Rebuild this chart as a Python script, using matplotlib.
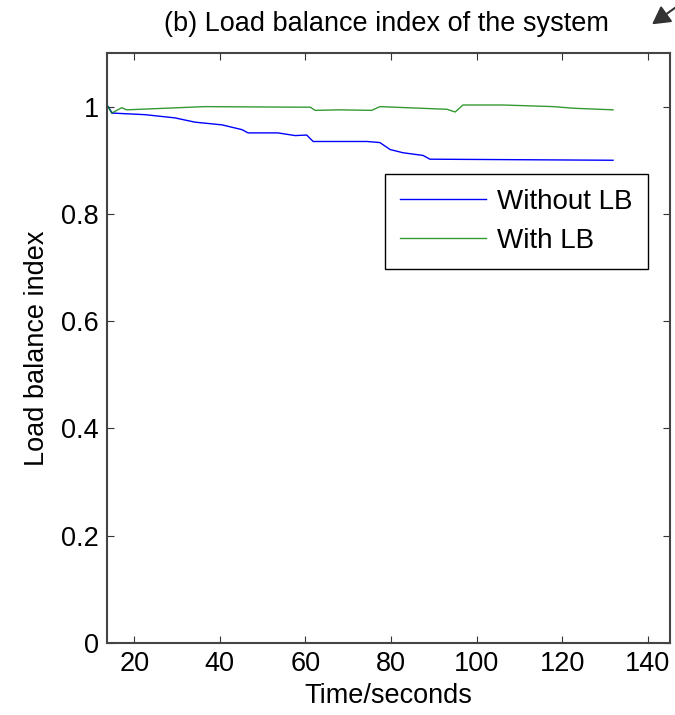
import numpy as np
import matplotlib
matplotlib.use("Agg")
import matplotlib.pyplot as plt

plt.rcParams['font.family'] = ['Liberation Sans', 'DejaVu Sans']

# time (s) and load balance index
t_without = [13.9, 14.8, 22.5, 29.5, 34.2, 40.5, 45.2, 46.6, 53.6, 57.6, 60.3, 61.8,
             74.4, 77.4, 79.8, 82.8, 87.5, 89.1, 131.9]
lbi_without = [1.0, 0.988, 0.985, 0.979, 0.971, 0.966, 0.957, 0.951, 0.951, 0.946, 0.947, 0.935,
               0.935, 0.933, 0.920, 0.914, 0.909, 0.902, 0.900]

t_with = [13.9, 14.7, 17.1, 18.2, 36.5, 57.6, 61.1, 62.3, 68.0, 75.5, 77.4, 93.1,
          95.0, 96.8, 106.2, 117.9, 122.6, 131.9]
lbi_with = [1.0, 0.988, 0.998, 0.994, 1.0, 0.999, 0.999, 0.993, 0.994, 0.993, 1.0, 0.995,
            0.990, 1.003, 1.003, 1.0, 0.997, 0.994]

labels = ["Without LB", "With LB"]
x_ticks = [20, 40, 60, 80, 100, 120, 140]
y_ticks = [0, 0.2, 0.4, 0.6, 0.8, 1]

fs = 19.5
fig = plt.figure(figsize=(6.75, 7.15), dpi=100)
ax = fig.add_axes([0.159, 0.1007, 0.8335, 0.8252])

ax.plot(t_without, lbi_without, color='#0000ff', lw=1.0, label=labels[0])
ax.plot(t_with, lbi_with, color='#008000', lw=1.0, alpha=0.8, label=labels[1])

ax.set_xlim(13.7, 145.2)
ax.set_ylim(0, 1.1)
ax.set_xticks(x_ticks)
ax.set_yticks(y_ticks)
ax.set_yticklabels(['0', '0.2', '0.4', '0.6', '0.8', '1'])
ax.tick_params(direction='in', top=True, right=True, length=5, width=0.8,
               color='#333333', labelsize=fs, pad=6)
for s in ax.spines.values():
    s.set_linewidth(1.5)
    s.set_color('#444444')

ax.set_xlabel("Time/seconds", fontsize=fs, labelpad=4)
ax.set_ylabel("Load balance index", fontsize=fs, labelpad=8)
fig.text(0.573, 0.967, "(b) Load balance index of the system", fontsize=fs,
         ha='center', va='center')

leg = ax.legend(loc='upper right', bbox_to_anchor=(0.961, 0.795), fontsize=20,
                fancybox=False, framealpha=1, edgecolor='black', handlelength=3.1,
                handletextpad=0.4, borderpad=0.55, labelspacing=0.45, borderaxespad=0)
leg.get_frame().set_linewidth(1.0)

# small arrow in the top-right corner
fig.add_artist(matplotlib.patches.FancyArrowPatch(
    (1.0, 0.989), (0.966, 0.966), transform=fig.transFigure,
    arrowstyle='-|>,head_length=0.9,head_width=0.5', mutation_scale=12,
    shrinkA=0, shrinkB=0, color='#333333', lw=1.5))

fig.savefig("out.png", dpi=100)
